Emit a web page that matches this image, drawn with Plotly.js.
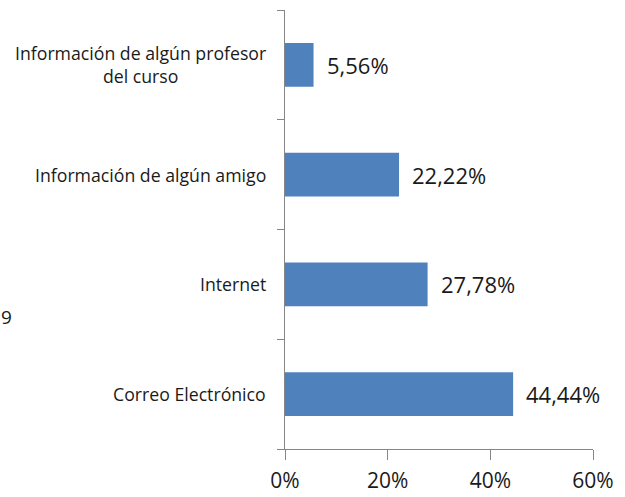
<!DOCTYPE html>
<html>
<head>
<meta charset="utf-8">
<script src="https://cdn.plot.ly/plotly-3.0.1.min.js"></script>
<style>html,body{margin:0;padding:0;background:#fff;}#chart{width:625px;height:497px;}</style>
</head>
<body>
<div id="chart"></div>
<script>
var categories = ["Correo Electrónico", "Internet", "Información de algún amigo", "Información de algún profesor del curso"];
var categoryLabels = ["Correo Electrónico", "Internet", "Información de algún amigo", "Información de algún profesor<br>del curso"];
var values = [44.44, 27.78, 22.22, 5.56];
var xTickVals = [0, 20, 40, 60];
var xTickText = ["0%", "20%", "40%", "60%"];

var trace = {
  type: "bar",
  orientation: "h",
  x: values,
  y: categories,
  marker: {color: "#4F81BD"},
  hoverinfo: "none"
};

var annotations = [];
for (var i = 0; i < categories.length; i++) {
  annotations.push({
    x: values[i], y: categories[i], xref: "x", yref: "y",
    text: values[i].toFixed(2).replace(".", ",") + "%",
    showarrow: false, xanchor: "left", yanchor: "middle", xshift: 11,
    font: {family: "Open Sans", size: 22, color: "#1a1a1a"}
  });
  annotations.push({
    x: 0, y: categories[i], xref: "paper", yref: "y",
    text: categoryLabels[i],
    showarrow: false, xanchor: "right", yanchor: "middle", xshift: -17, align: "center",
    font: {family: "Open Sans", size: 17.7, color: "#1a1a1a"}
  });
}
annotations.push({
  x: 0, y: 0.3, xref: "paper", yref: "paper", xshift: -286, xanchor: "left", yanchor: "middle",
  text: "9", showarrow: false, font: {family: "Open Sans", size: 19, color: "#1a1a1a"}
});

var layout = {
  width: 625, height: 497,
  margin: {l: 285, r: 32, t: 10, b: 48},
  paper_bgcolor: "#fff", plot_bgcolor: "#fff",
  showlegend: false,
  bargap: 0.6,
  xaxis: {
    range: [0, 60], tickvals: xTickVals, ticktext: xTickText,
    showgrid: false, zeroline: false, showline: true, linecolor: "#868686", linewidth: 1,
    ticks: "outside", ticklen: 10, tickcolor: "#868686", ticklabelstandoff: 3,
    tickfont: {family: "Open Sans", size: 21, color: "#1a1a1a"}
  },
  yaxis: {
    categoryorder: "array", categoryarray: categories,
    showticklabels: false,
    showgrid: false, zeroline: false, showline: true, linecolor: "#868686", linewidth: 1,
    ticks: "outside", ticklen: 7, tickcolor: "#868686", tickson: "boundaries"
  },
  annotations: annotations
};

Plotly.newPlot("chart", [trace], layout, {staticPlot: true, displayModeBar: false});
</script>
</body>
</html>
